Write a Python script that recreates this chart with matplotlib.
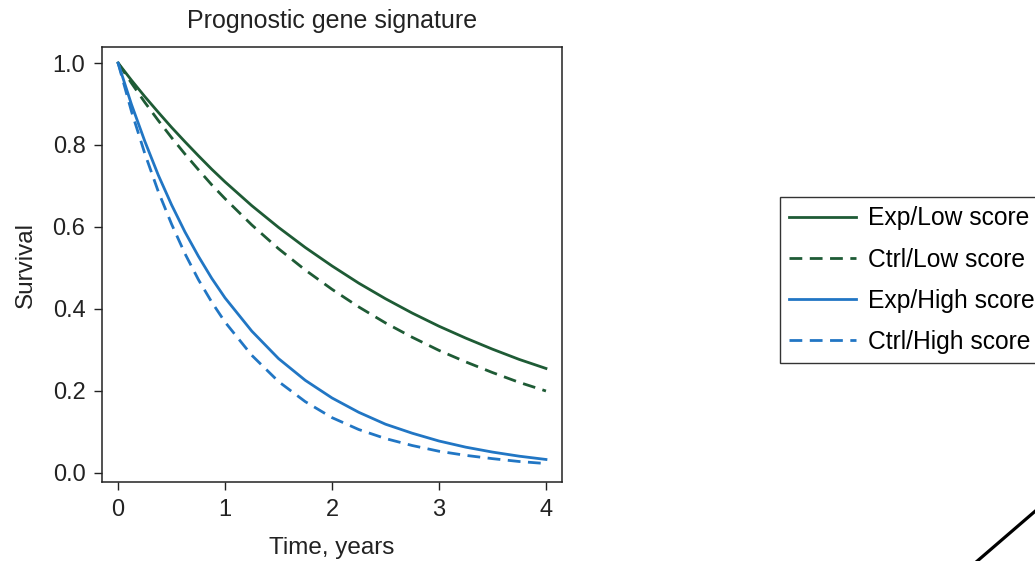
import matplotlib.pyplot as plt
from matplotlib.lines import Line2D

plt.rcParams['font.family'] = ['Liberation Sans', 'DejaVu Sans']

# survival curves
time = [0, 0.125, 0.25, 0.375, 0.5, 0.625, 0.75, 0.875, 1, 1.25, 1.5, 1.75, 2,
        2.25, 2.5, 2.75, 3, 3.25, 3.5, 3.75, 4]
exp_low = [1.0, 0.958, 0.918, 0.880, 0.843, 0.808, 0.774, 0.741, 0.710, 0.652, 0.599,
           0.550, 0.505, 0.463, 0.425, 0.390, 0.358, 0.329, 0.302, 0.277, 0.255]
ctrl_low = [1.0, 0.951, 0.904, 0.860, 0.818, 0.778, 0.740, 0.703, 0.669, 0.605, 0.547,
            0.495, 0.448, 0.405, 0.366, 0.331, 0.299, 0.271, 0.245, 0.221, 0.200]
exp_high = [1.0, 0.899, 0.809, 0.727, 0.654, 0.588, 0.529, 0.475, 0.427, 0.346, 0.279,
            0.226, 0.183, 0.148, 0.119, 0.097, 0.078, 0.063, 0.051, 0.041, 0.033]
ctrl_high = [1.0, 0.882, 0.779, 0.687, 0.607, 0.535, 0.472, 0.417, 0.368, 0.287, 0.223,
             0.174, 0.135, 0.106, 0.084, 0.067, 0.053, 0.043, 0.035, 0.028, 0.023]

green = '#1e5b35'
blue = '#2176c4'
txt = '#222222'

fig = plt.figure(figsize=(10.35, 5.61), dpi=100)
ax = fig.add_axes([0.0986, 0.1408, 0.4444, 0.7754])

dash = (0, (4.6, 2.7))
ax.plot(time, exp_low, color=green, lw=2.0, label='Exp/Low score')
ax.plot(time, ctrl_low, color=green, lw=2.0, ls=dash, label='Ctrl/Low score')
ax.plot(time, exp_high, color=blue, lw=2.0, label='Exp/High score')
ax.plot(time, ctrl_high, color=blue, lw=2.0, ls=dash, label='Ctrl/High score')

ax.set_xlim(-0.15, 4.15)
ax.set_ylim(-0.022, 1.039)
ax.set_xticks([0, 1, 2, 3, 4])
ax.set_yticks([0.0, 0.2, 0.4, 0.6, 0.8, 1.0])
ax.set_yticklabels(['0.0', '0.2', '0.4', '0.6', '0.8', '1.0'])
ax.tick_params(direction='out', length=6, width=1, labelsize=17, colors=txt, pad=6)
for s in ax.spines.values():
    s.set_linewidth(1.1)
    s.set_color(txt)

ax.set_title('Prognostic gene signature', fontsize=18, color=txt, pad=14)
ax.set_xlabel('Time, years', fontsize=17.5, color=txt, labelpad=12)
ax.set_ylabel('Survival', fontsize=17.5, color=txt, labelpad=11)

fig.legend(loc='upper left', bbox_to_anchor=(0.7536, 0.6488), fontsize=17.7,
           frameon=True, fancybox=False, edgecolor='#333333', framealpha=1,
           handlelength=2.7, labelspacing=0.7, borderpad=0.38, handletextpad=0.5,
           borderaxespad=0)

# diagonal stroke in the lower right corner
fig.add_artist(Line2D([975 / 1035, 1040 / 1035], [1 - 563 / 561, 1 - 507 / 561],
                      transform=fig.transFigure, color='black', lw=2.3))

fig.savefig('out.png', dpi=100)
